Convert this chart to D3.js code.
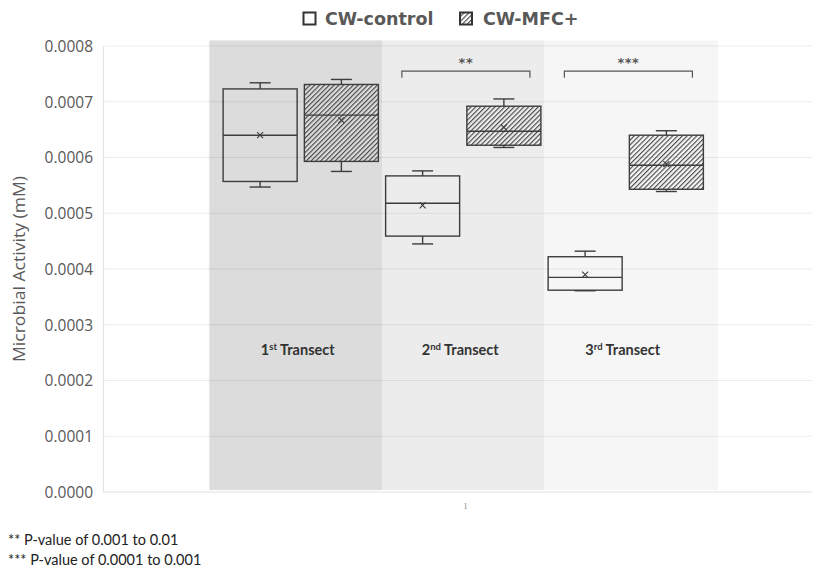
<!DOCTYPE html>
<html>
<head>
<meta charset="utf-8">
<script src="https://cdn.jsdelivr.net/npm/d3@7"></script>
<style>
  html, body { margin: 0; padding: 0; background: #ffffff; }
  svg { display: block; }
</style>
</head>
<body>
<svg id="chart" width="816" height="574"></svg>
<script>
// ---- data ----
const transectNumbers = ["1", "2", "3"];
const transectSuffixes = ["st", "nd", "rd"];
const seriesNames = ["CW-control", "CW-MFC+"];

// five-number summaries and means per transect
const controlMin    = [0.000547, 0.000445, 0.000361];
const controlQ1     = [0.000557, 0.000459, 0.000362];
const controlMedian = [0.000640, 0.000518, 0.000385];
const controlQ3     = [0.000723, 0.000567, 0.000422];
const controlMax    = [0.000734, 0.000576, 0.000432];
const controlMean   = [0.000640, 0.000514, 0.000390];

const mfcMin    = [0.000575, 0.000618, 0.000539];
const mfcQ1     = [0.000593, 0.000622, 0.000543];
const mfcMedian = [0.000676, 0.000647, 0.000586];
const mfcQ3     = [0.000731, 0.000692, 0.000640];
const mfcMax    = [0.000740, 0.000705, 0.000648];
const mfcMean   = [0.000667, 0.000654, 0.000588];

const significance = ["", "**", "***"];
const yTicks = [0, 0.0001, 0.0002, 0.0003, 0.0004, 0.0005, 0.0006, 0.0007, 0.0008];
const xCategories = ["1"];
const footnotes = ["** P-value of 0.001 to 0.01", "*** P-value of 0.0001 to 0.001"];

// ---- layout ----
const svg = d3.select("#chart");
const plotLeft = 103, plotRight = 812, plotTop = 46, plotBottom = 492;
const regionFills = ["#dcdcdc", "#ececec", "#f6f6f6"];
const textGray = "#595959";
const ink = "#3d3d3d";

const y = d3.scaleLinear().domain([0, 0.0008]).range([plotBottom, plotTop]);
const xCat = d3.scalePoint().domain(xCategories).range([plotLeft, 827]).padding(0.5);

// one slot per box, two per transect
const boxes = [];
transectNumbers.forEach((t, i) => {
  boxes.push({ key: "c" + i, transect: i, series: 0, min: controlMin[i], q1: controlQ1[i],
    median: controlMedian[i], q3: controlQ3[i], max: controlMax[i], mean: controlMean[i] });
  boxes.push({ key: "m" + i, transect: i, series: 1, min: mfcMin[i], q1: mfcQ1[i],
    median: mfcMedian[i], q3: mfcQ3[i], max: mfcMax[i], mean: mfcMean[i] });
});
const x = d3.scaleBand().domain(boxes.map(d => d.key)).range([219.5, 707])
  .paddingInner(0.089).paddingOuter(0.0445);
const step = x.step(), bw = x.bandwidth();

// hatch pattern
const defs = svg.append("defs");
const pat = defs.append("pattern").attr("id", "hatch")
  .attr("patternUnits", "userSpaceOnUse").attr("width", 3.4).attr("height", 3.4)
  .attr("patternTransform", "rotate(45)");
pat.append("line").attr("x1", 0.6).attr("y1", 0).attr("x2", 0.6).attr("y2", 3.4)
  .attr("stroke", "#3a3a3a").attr("stroke-width", 1.05);

// transect background regions
const regions = transectNumbers.map((t, i) => {
  const left = i === 0 ? x("c0") - 0.17 * step : (x("m" + (i - 1)) + bw + x("c" + i)) / 2;
  const right = i === 2 ? x("m2") + bw + 0.18 * step : (x("m" + i) + bw + x("c" + (i + 1))) / 2;
  return { i, left, right };
});
svg.append("g").selectAll("rect").data(regions).join("rect")
  .attr("x", d => d.left).attr("width", d => d.right - d.left)
  .attr("y", y(0.00081)).attr("height", y(0) - y(0.00081) - 2)
  .attr("fill", d => regionFills[d.i]);

// gridlines
svg.append("g").selectAll("line").data(yTicks.slice(1)).join("line")
  .attr("x1", plotLeft).attr("x2", plotRight)
  .attr("y1", d => y(d)).attr("y2", d => y(d))
  .attr("stroke", "rgba(0,0,0,0.075)").attr("stroke-width", 1.2);

// y axis
const yAxis = svg.append("g").attr("transform", `translate(${plotLeft},0)`)
  .call(d3.axisLeft(y).tickValues(yTicks).tickFormat(d3.format(".4f")).tickSize(0).tickPadding(10));
yAxis.select(".domain").attr("stroke", "#e3e3e3").attr("stroke-width", 1.2);
yAxis.selectAll("text").attr("font-family", "Open Sans").attr("font-size", 15.5)
  .attr("fill", textGray).attr("dy", "0.34em");

// x axis
const xAxis = svg.append("g").attr("transform", `translate(0,${plotBottom})`)
  .call(d3.axisBottom(xCat).tickSize(0).tickPadding(11));
xAxis.select(".domain").attr("stroke", "#e0e0e0").attr("stroke-width", 1.2)
  .attr("d", `M${plotLeft},0H${plotRight}`);
xAxis.selectAll("text").attr("font-family", "Liberation Serif").attr("font-size", 8)
  .attr("fill", "#888");

// y axis title
svg.append("text")
  .attr("transform", `translate(25,269) rotate(-90)`)
  .attr("text-anchor", "middle").attr("font-family", "Open Sans").attr("font-size", 16)
  .attr("textLength", 186).attr("lengthAdjust", "spacingAndGlyphs")
  .attr("fill", textGray).text("Microbial Activity (mM)");

// boxes
const bg = svg.append("g").attr("fill", "none").attr("stroke", ink).attr("stroke-width", 1.4);
const capW = 21;
boxes.forEach(d => {
  const cx = x(d.key) + bw / 2;
  const g = bg.append("g");
  g.append("line").attr("x1", cx).attr("x2", cx).attr("y1", y(d.max)).attr("y2", y(d.q3));
  g.append("line").attr("x1", cx).attr("x2", cx).attr("y1", y(d.q1)).attr("y2", y(d.min));
  g.append("line").attr("x1", cx - capW / 2).attr("x2", cx + capW / 2).attr("y1", y(d.max)).attr("y2", y(d.max));
  g.append("line").attr("x1", cx - capW / 2).attr("x2", cx + capW / 2).attr("y1", y(d.min)).attr("y2", y(d.min));
  g.append("rect").attr("x", x(d.key)).attr("width", bw)
    .attr("y", y(d.q3)).attr("height", y(d.q1) - y(d.q3))
    .attr("fill", d.series === 1 ? "url(#hatch)" : "none");
  g.append("line").attr("x1", x(d.key)).attr("x2", x(d.key) + bw)
    .attr("y1", y(d.median)).attr("y2", y(d.median));
  const my = y(d.mean), s = 3;
  g.append("path").attr("d", `M${cx - s},${my - s}L${cx + s},${my + s}M${cx - s},${my + s}L${cx + s},${my - s}`)
    .attr("stroke-width", 1.1);
});

// significance brackets
const br = svg.append("g");
transectNumbers.forEach((t, i) => {
  if (!significance[i]) return;
  const x1 = x("c" + i) + 0.2 * step, x2 = x("m" + i) + bw - 0.135 * step;
  const yb = y(0.000755), yt = y(0.000743);
  br.append("path").attr("d", `M${x1},${yt}V${yb}H${x2}V${yt}`)
    .attr("fill", "none").attr("stroke", "#555").attr("stroke-width", 1.2);
  br.append("text").attr("x", (x1 + x2) / 2).attr("y", yb - 4).attr("text-anchor", "middle")
    .attr("font-family", "DejaVu Sans").attr("font-size", 13).attr("font-weight", "bold")
    .attr("fill", "#555").attr("letter-spacing", "0.5px").text(significance[i]);
});

// transect labels
regions.forEach(r => {
  const i = r.i;
  const cx = (x("c" + i) + x("m" + i) + bw) / 2 - 3;
  const t = svg.append("text").attr("x", cx).attr("y", 355).attr("text-anchor", "middle")
    .attr("font-family", "Lato").attr("font-weight", "bold").attr("font-size", 14.5)
    .attr("fill", "#333");
  t.append("tspan").text(transectNumbers[i]);
  t.append("tspan").attr("font-size", 9.5).attr("dy", -5).text(transectSuffixes[i]);
  t.append("tspan").attr("dy", 5).text(" Transect");
});

// legend
const lg = svg.append("g");
const legendItems = [
  { name: seriesNames[0], sx: 303.5, tx: 325, fill: "none" },
  { name: seriesNames[1], sx: 460, tx: 483, fill: "url(#hatch)" }
];
legendItems.forEach(d => {
  lg.append("rect").attr("x", d.sx).attr("y", 12.5).attr("width", 12).attr("height", 12)
    .attr("fill", d.fill).attr("stroke", "#333").attr("stroke-width", 2);
  lg.append("text").attr("x", d.tx).attr("y", 25).attr("font-family", "DejaVu Sans")
    .attr("font-weight", "bold").attr("font-size", 17.5).attr("fill", textGray).text(d.name);
});

// footnotes
svg.append("g").selectAll("text").data(footnotes).join("text")
  .attr("x", 8).attr("y", (d, i) => 545 + i * 20)
  .attr("font-family", "Lato").attr("font-size", 14.5).attr("fill", "#222")
  .text(d => d);
</script>
</body>
</html>
